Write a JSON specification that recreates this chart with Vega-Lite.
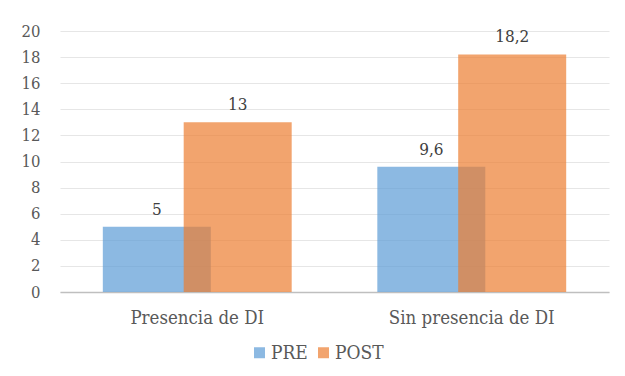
{
  "$schema": "https://vega.github.io/schema/vega-lite/v6.json",
  "width": 549,
  "height": 261,
  "autosize": {"type": "none"},
  "padding": {"left": 60, "top": 31, "right": 16, "bottom": 84},
  "background": "white",
  "config": {
    "view": {"stroke": null},
    "locale": {"number": {"decimal": ",", "thousands": ".", "grouping": [3], "currency": ["", " €"]}}
  },
  "data": {
    "values": [
      {"Categoria": "Presencia de DI", "Momento": "PRE", "Valor": 5},
      {"Categoria": "Sin presencia de DI", "Momento": "PRE", "Valor": 9.6},
      {"Categoria": "Presencia de DI", "Momento": "POST", "Valor": 13},
      {"Categoria": "Sin presencia de DI", "Momento": "POST", "Valor": 18.2}
    ]
  },
  "encoding": {
    "x": {
      "field": "Categoria", "type": "nominal", "sort": null,
      "scale": {"paddingInner": 0, "paddingOuter": 0},
      "axis": {"title": null, "labelAngle": 0, "ticks": false, "grid": false, "domainColor": "#BFBFBF", "domainWidth": 1.5, "labelFont": "DejaVu Serif Condensed", "labelFontSize": 18.5, "labelColor": "#595959", "labelPadding": 16}
    },
    "xOffset": {
      "field": "Momento", "type": "nominal", "sort": ["PRE", "POST"],
      "scale": {"paddingInner": 0, "paddingOuter": 0.697}
    },
    "y": {
      "field": "Valor", "type": "quantitative",
      "scale": {"domain": [0, 20]},
      "axis": {"title": null, "domain": false, "ticks": false, "values": [0, 2, 4, 6, 8, 10, 12, 14, 16, 18, 20], "labelFont": "DejaVu Serif Condensed", "labelFontSize": 16.5, "labelColor": "#595959", "labelPadding": 20, "gridColor": "#E6E6E6", "gridWidth": 1.2}
    }
  },
  "layer": [
    {
      "mark": {"type": "bar", "width": 108, "opacity": 0.7},
      "encoding": {
        "color": {
          "field": "Momento", "type": "nominal",
          "scale": {"domain": ["PRE", "POST"], "range": ["#5B9BD5", "#ED7D31"]},
          "legend": {"orient": "none", "legendX": 190, "legendY": 312, "direction": "horizontal", "title": null, "symbolType": "square", "symbolSize": 121, "symbolOpacity": 0.7, "symbolStrokeWidth": 0, "labelFont": "DejaVu Serif Condensed", "labelFontSize": 19, "labelColor": "#595959", "columnPadding": 6, "labelOffset": 2, "padding": 0}
        }
      }
    },
    {
      "mark": {"type": "text", "baseline": "alphabetic", "dy": -12, "font": "DejaVu Serif Condensed", "fontSize": 17, "color": "#404040"},
      "encoding": {"text": {"field": "Valor", "type": "quantitative", "format": ".1~f"}}
    }
  ]
}
